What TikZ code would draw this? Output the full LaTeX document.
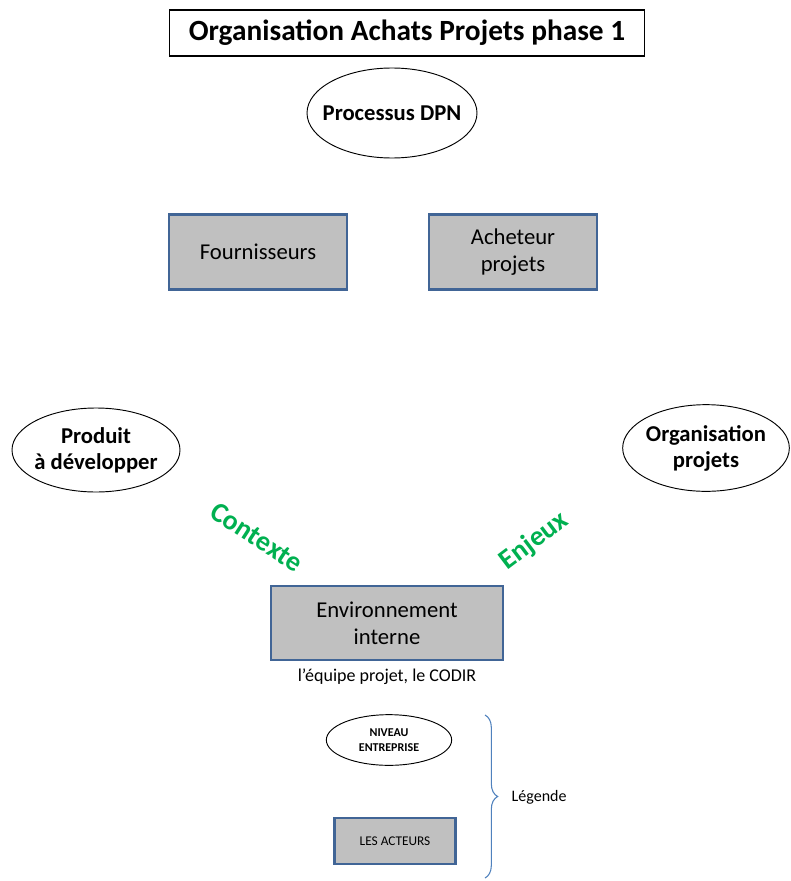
\documentclass[tikz,border=0pt]{standalone}
\usepackage{fontspec}
\setmainfont{Carlito}
\usetikzlibrary{positioning, shapes.geometric, decorations.pathreplacing}
\definecolor{boxgray}{RGB}{192,192,192}
\definecolor{boxblue}{RGB}{65,101,150}
\definecolor{braceblue}{RGB}{79,129,189}
\definecolor{motvert}{RGB}{0,176,80}

\begin{document}
\begin{tikzpicture}[
    x=0.75pt, y=-0.75pt,
    acteur/.style={rectangle, draw=boxblue, line width=2pt, fill=boxgray, align=center, inner sep=0pt, font=\fontsize{17}{20}\selectfont},
    niveau/.style={ellipse, draw, line width=0.7pt, align=center, inner sep=0pt, font=\bfseries\fontsize{17}{19.5}\selectfont},
    motcle/.style={text=motvert, font=\bfseries\fontsize{21}{23}\selectfont}
]
\useasboundingbox (0,0) rectangle (790,881);

% Titre
\node[draw, line width=1pt, minimum width=356pt, minimum height=34.5pt, font=\bfseries\fontsize{22}{24}\selectfont] (titre) at (407,33) {Organisation Achats Projets phase 1};

% Niveaux entreprise
\node[niveau, inner xsep=-9pt, minimum width=127.5pt, minimum height=67.5pt] (dpn) at (392,113) {Processus DPN};
\node[niveau, inner xsep=-3pt, minimum width=126pt, minimum height=63pt] (produit) at (96,450) {Produit\\à développer};
\node[niveau, inner xsep=-3pt, minimum width=125pt, minimum height=65pt] (orga) at (706,448) {Organisation\\projets};

% Acteurs
\node[acteur, minimum width=133.5pt, minimum height=56pt] (fourn) at (258,252) {Fournisseurs};
\node[acteur, minimum width=126pt, minimum height=56pt] (acheteur) at (513,252) {Acheteur\\projets};
\node[acteur, minimum width=174pt, minimum height=55.5pt] (env) at (387,623) {Environnement\\interne};
\node[below=2pt of env, font=\fontsize{13.5}{16}\selectfont] (codir) {l’équipe projet, le CODIR};

% Mots clés
\node[motcle, rotate=-33] (contexte) at (257,537) {Contexte};
\node[motcle, rotate=37] (enjeux) at (534,541) {Enjeux};

% Légende
\node[niveau, minimum width=94pt, minimum height=38pt, font=\bfseries\fontsize{9}{11}\selectfont] (leg1) at (389,740) {NIVEAU\\ENTREPRISE};
\node[acteur, minimum width=91pt, minimum height=34.5pt, font=\fontsize{10}{12}\selectfont] (leg2) at (395,841) {LES ACTEURS};
\coordinate (haut) at (485,715);
\coordinate (bas) at (485,878);
\draw[braceblue, line width=0.8pt, decorate, decoration={brace, amplitude=9.5pt}] (haut) -- (bas);
\node[font=\fontsize{12}{14}\selectfont, anchor=west] (legende) at (507,797) {Légende};

\end{tikzpicture}
\end{document}
